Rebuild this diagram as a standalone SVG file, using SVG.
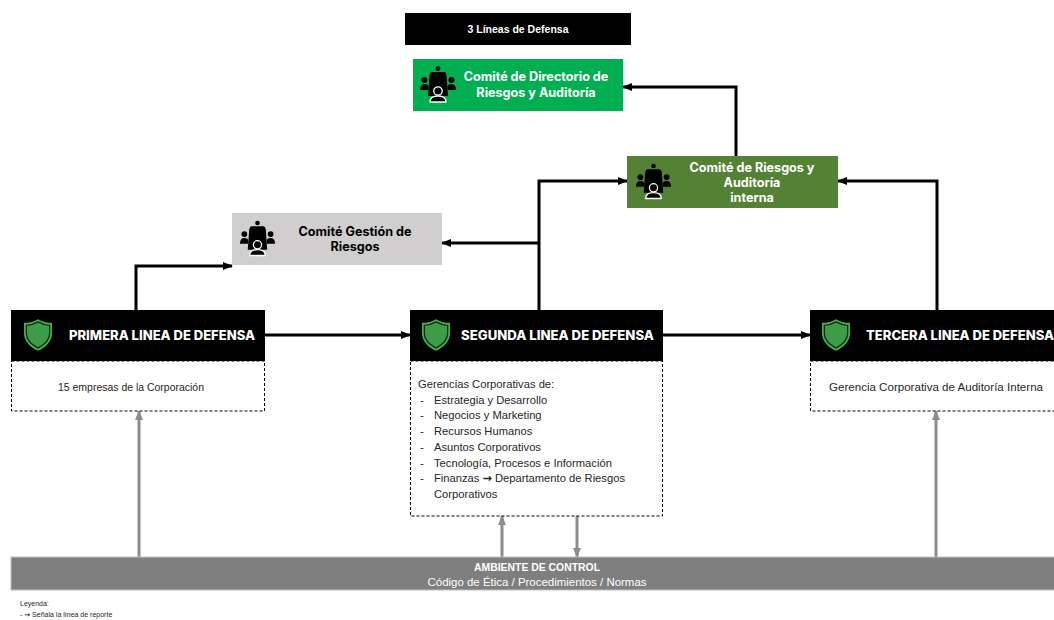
<svg xmlns="http://www.w3.org/2000/svg" xmlns:xlink="http://www.w3.org/1999/xlink" width="1054" height="620" viewBox="0 0 1054 620">
<style>
.cmt{font-family:Inter,"Open Sans",sans-serif;font-weight:700;font-size:12.6px;text-anchor:middle}
.hdr{font-family:Inter,"Open Sans",sans-serif;font-weight:800;font-size:13px;fill:#fff}
.body{font-family:"Liberation Sans",Arial,sans-serif;font-size:11.2px;fill:#262626}
.arr{font-family:"DejaVu Sans",sans-serif;font-weight:700}
.conn{fill:none;stroke:#000;stroke-width:3}
.gconn{fill:none;stroke:#8C8C8C;stroke-width:3}
.dash{fill:#fff;stroke:#000;stroke-width:1;stroke-dasharray:3 2}
</style>
<defs>
<marker id="ah" viewBox="0 0 10 8" refX="9" refY="4" markerWidth="10" markerHeight="8" markerUnits="userSpaceOnUse" orient="auto"><path d="M0,0 L10,4 L0,8 z" fill="#000"/></marker>
<marker id="gah" viewBox="0 0 10 8" refX="9" refY="4" markerWidth="10" markerHeight="8" markerUnits="userSpaceOnUse" orient="auto"><path d="M0,0 L10,4 L0,8 z" fill="#8C8C8C"/></marker>
<symbol id="meet" viewBox="0 0 36 36">
<circle cx="18" cy="2.6" r="2.4" fill="#000"/>
<path d="M12,6 H24 Q26,6 26.5,9 L28,30 H8 L9.5,9 Q10,6 12,6 Z" fill="#000"/>
<circle cx="4.5" cy="14" r="3" fill="#000"/>
<path d="M0,24 Q0,18 4.5,18 Q8.5,18 8.5,21 L8.5,24 Z" fill="#000"/>
<circle cx="31.5" cy="14" r="3" fill="#000"/>
<path d="M36,24 Q36,18 31.5,18 Q27.5,18 27.5,21 L27.5,24 Z" fill="#000"/>
<circle cx="18" cy="25" r="4.2" fill="#000" stroke="#fff" stroke-width="1.3"/>
<path d="M10,36 Q10,30 18,30 Q26,30 26,36 Z" fill="#000" stroke="#fff" stroke-width="1.3"/>
</symbol>
<symbol id="shield" viewBox="0 0 30 34">
<path d="M15,0 C20,3 25,4 30,4 L30,15 C30,24 23,30 15,34 C7,30 0,24 0,15 L0,4 C5,4 10,3 15,0 Z" fill="#4CAF50"/>
<path d="M15,3 C19.5,5.5 23.5,6.5 27.5,6.6 L27.5,15 C27.5,22.5 21.5,27.5 15,31 C8.5,27.5 2.5,22.5 2.5,15 L2.5,6.6 C6.5,6.5 10.5,5.5 15,3 Z" fill="#3E9B47" stroke="#0D2E12" stroke-width="1.4"/>
</symbol>
</defs>
<rect width="1054" height="620" fill="#fff"/>

<g id="title">
<rect x="405" y="13" width="226" height="32" fill="#000"/>
<text x="518" y="33" font-family="'Liberation Sans',Arial,sans-serif" font-weight="700" font-size="10.5" fill="#fff" text-anchor="middle">3 Líneas de Defensa</text>
</g>

<g id="connectors">
<path class="conn" d="M136,310 V266 H232" marker-end="url(#ah)"/>
<path class="conn" d="M539,310 V181 H627" marker-end="url(#ah)"/>
<path class="conn" d="M539,243 H442" marker-end="url(#ah)"/>
<path class="conn" d="M937,310 V181 H838" marker-end="url(#ah)"/>
<path class="conn" d="M736,156 V87 H623" marker-end="url(#ah)"/>
<path class="conn" d="M265,335 H410" marker-end="url(#ah)"/>
<path class="conn" d="M663,335 H810" marker-end="url(#ah)"/>
<path class="gconn" d="M139,557 V411" marker-end="url(#gah)"/>
<path class="gconn" d="M502,557 V516" marker-end="url(#gah)"/>
<path class="gconn" d="M577,516 V557" marker-end="url(#gah)"/>
<path class="gconn" d="M936,557 V411" marker-end="url(#gah)"/>
</g>

<g id="comite-directorio">
<rect x="413" y="59" width="210" height="52" fill="#00B050"/>
<use xlink:href="#meet" x="420" y="65" width="36" height="38"/>
<text class="cmt" fill="#fff" x="536" y="81">Comité de Directorio de</text>
<text class="cmt" fill="#fff" x="536" y="97">Riesgos y Auditoría</text>
</g>

<g id="comite-riesgos-auditoria">
<rect x="627" y="156" width="211" height="52" fill="#548235"/>
<use xlink:href="#meet" x="636" y="162" width="35" height="38"/>
<text class="cmt" fill="#fff" x="752" y="172">Comité de Riesgos y</text>
<text class="cmt" fill="#fff" x="752" y="187">Auditoría</text>
<text class="cmt" fill="#fff" x="752" y="202">interna</text>
</g>

<g id="comite-gestion">
<rect x="232" y="213" width="210" height="52" fill="#D0CECE"/>
<use xlink:href="#meet" x="240" y="219" width="35" height="38"/>
<text class="cmt" fill="#000" x="355" y="236">Comité Gestión de</text>
<text class="cmt" fill="#000" x="355" y="251">Riesgos</text>
</g>

<g id="primera-linea">
<rect class="dash" x="11.5" y="361" width="253" height="50"/>
<rect x="11" y="310" width="254" height="51" fill="#000"/>
<use xlink:href="#shield" x="24" y="319" width="28" height="32"/>
<text class="hdr" x="69" y="340" textLength="186" lengthAdjust="spacingAndGlyphs">PRIMERA LINEA DE DEFENSA</text>
<text class="body" x="131" y="391" text-anchor="middle" textLength="146" lengthAdjust="spacingAndGlyphs">15 empresas de la Corporación</text>
</g>

<g id="segunda-linea">
<rect class="dash" x="410.5" y="361" width="252" height="155"/>
<rect x="410" y="310" width="253" height="51" fill="#000"/>
<use xlink:href="#shield" x="422" y="319" width="28" height="32"/>
<text class="hdr" x="461" y="340" textLength="193" lengthAdjust="spacingAndGlyphs">SEGUNDA LINEA DE DEFENSA</text>
<g class="body">
<text x="418" y="388">Gerencias Corporativas de:</text>
<text x="420" y="404">-</text><text x="434" y="404">Estrategia y Desarrollo</text>
<text x="420" y="419">-</text><text x="434" y="419">Negocios y Marketing</text>
<text x="420" y="435">-</text><text x="434" y="435">Recursos Humanos</text>
<text x="420" y="451">-</text><text x="434" y="451">Asuntos Corporativos</text>
<text x="420" y="467">-</text><text x="434" y="467">Tecnología, Procesos e Información</text>
<text x="420" y="482">-</text><text x="434" y="482">Finanzas <tspan class="arr">→</tspan> Departamento de Riesgos</text>
<text x="434" y="498">Corporativos</text>
</g>
</g>

<g id="tercera-linea">
<rect class="dash" x="810.5" y="361" width="250" height="50"/>
<rect x="810" y="310" width="250" height="51" fill="#000"/>
<use xlink:href="#shield" x="822" y="319" width="28" height="32"/>
<text class="hdr" x="866" y="340" textLength="188" lengthAdjust="spacingAndGlyphs">TERCERA LINEA DE DEFENSA</text>
<text class="body" x="936" y="391" text-anchor="middle" textLength="214" lengthAdjust="spacingAndGlyphs">Gerencia Corporativa de Auditoría Interna</text>
</g>

<g id="ambiente-control">
<rect x="11" y="557" width="1050" height="33" fill="#7F7F7F" stroke="#BFBFBF" stroke-width="1"/>
<text x="537" y="571" font-family="'Liberation Sans',Arial,sans-serif" font-weight="700" font-size="10.5" fill="#fff" text-anchor="middle" textLength="126" lengthAdjust="spacingAndGlyphs">AMBIENTE DE CONTROL</text>
<text x="537" y="586" font-family="'Liberation Sans',Arial,sans-serif" font-size="10.5" fill="#fff" text-anchor="middle" textLength="219" lengthAdjust="spacingAndGlyphs">Código de Ética / Procedimientos / Normas</text>
</g>

<g id="leyenda" font-family="'Liberation Sans',Arial,sans-serif" font-size="7" fill="#262626">
<text x="20" y="606">Leyenda:</text>
<text x="20" y="617">- <tspan class="arr">→</tspan> Señala la línea de reporte</text>
</g>
</svg>
